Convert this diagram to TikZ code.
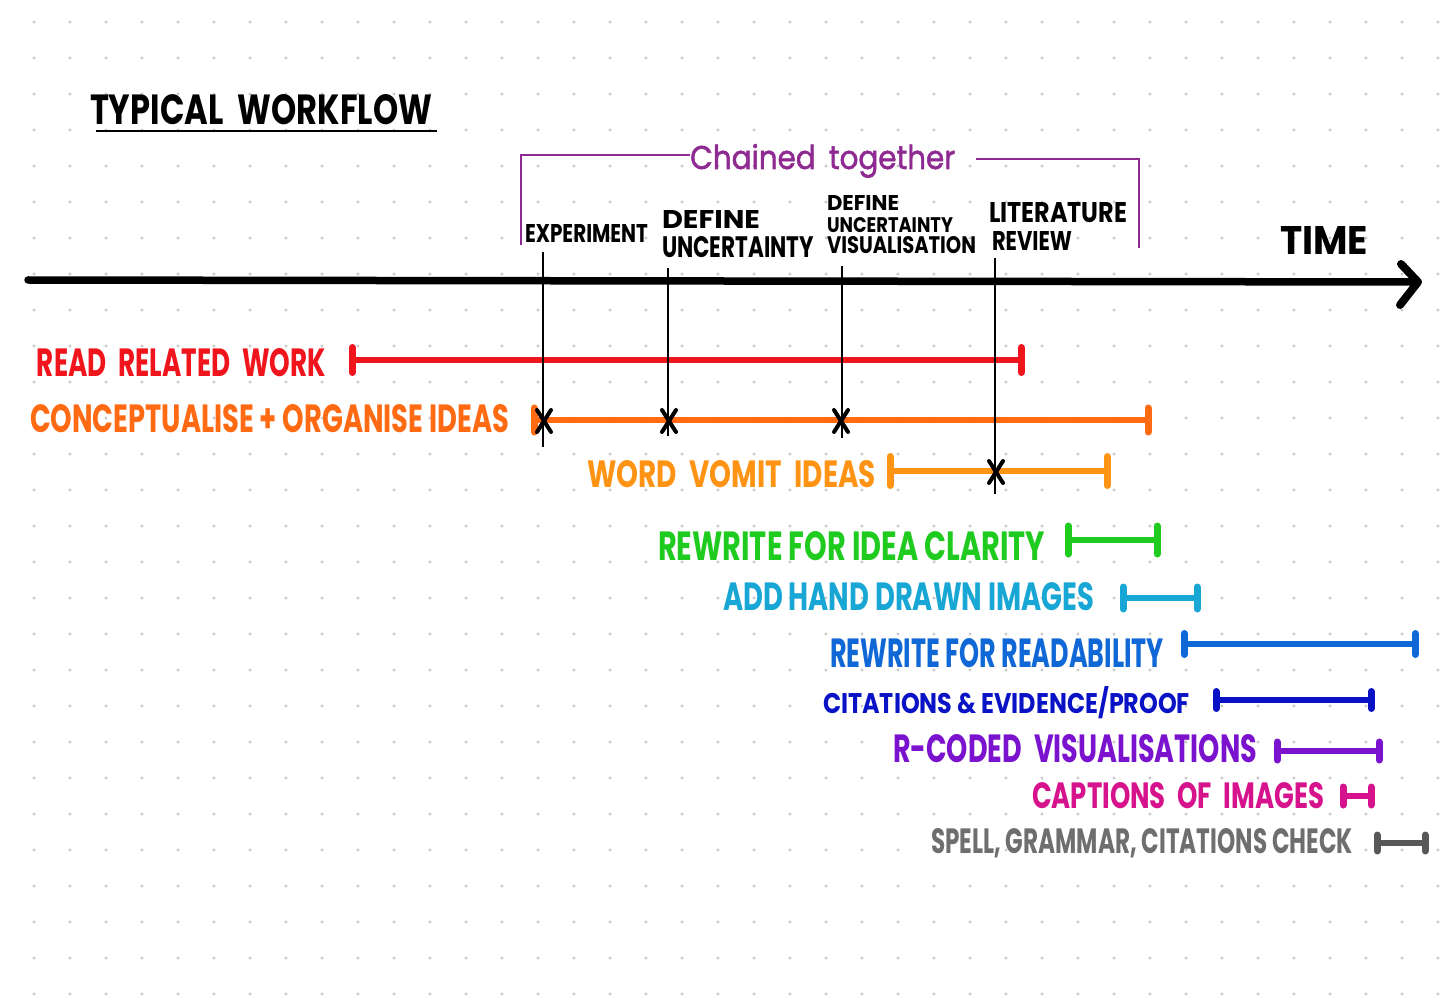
\documentclass[tikz,border=0pt]{standalone}
\usepackage{fontspec}
\usepackage{graphicx}
\setmainfont{Poppins}

% palette
\definecolor{cDot}{HTML}{C8C8C8}
\definecolor{cBracket}{HTML}{8E2A92}
\definecolor{cRed}{HTML}{F0141C}
\definecolor{cOrange}{HTML}{FF6A12}
\definecolor{cAmber}{HTML}{FF9414}
\definecolor{cGreen}{HTML}{1ECB1E}
\definecolor{cCyan}{HTML}{18A6D4}
\definecolor{cBlue}{HTML}{1068D6}
\definecolor{cNavy}{HTML}{0A12C6}
\definecolor{cViolet}{HTML}{7A12CE}
\definecolor{cMagenta}{HTML}{D6128C}
\definecolor{cGreyText}{HTML}{6E6E6E}
\definecolor{cGreyBar}{HTML}{585858}

% text squeezed into a given width and cap height
\newcommand{\hw}[3]{\resizebox{#1pt}{#2pt}{#3}}
% wider gap between hand-lettered words
\newcommand{\gap}{\hspace{0.45em}}

% a coloured time span: name, colour, start x, end x, y, half height of end ticks
\newcommand{\spanbar}[6]{%
  \coordinate (#1s) at (#3,#5);
  \coordinate (#1e) at (#4,#5);
  \draw[span,#2] (#1s) -- (#1e);
  \draw[tick,#2] ([yshift=#6pt]#1s) -- ([yshift=-#6pt]#1s);
  \draw[tick,#2] ([yshift=#6pt]#1e) -- ([yshift=-#6pt]#1e);
}

\tikzset{
  lbl/.style={anchor=base west, inner sep=0pt, outer sep=0pt, font=\bfseries},
  span/.style={line width=6.5pt, line cap=round},
  tick/.style={line width=7pt, line cap=round},
  guide/.style={line width=2pt, black},
  cross/.style={line width=4pt, line cap=round, black},
  bracket/.style={line width=2pt, cBracket, line join=miter},
}

\begin{document}
\begin{tikzpicture}[x=1pt,y=-1pt]
\useasboundingbox (0,0) rectangle (1444,1000);
\fill[white] (0,0) rectangle (1444,1000);

% dotted paper
\foreach \i in {0,...,39}
  \foreach \j in {0,...,27}
    \fill[cDot] (34+36*\i,22+36*\j) circle (1.6);

% title
\node[lbl] (title) at (90,125) {\hw{342}{30}{TYPICAL\gap WORKFLOW}};
\coordinate (ulA) at (96,131);
\coordinate (ulB) at (437,131);
\draw[line width=2.2pt] (ulA) -- (ulB);

% bracket grouping the chained milestones
\node[anchor=base west, inner sep=0pt, text=cBracket] (chain) at (690,169)
  {\hw{265}{25}{\addfontfeatures{FakeBold=1.6}Chained\gap together}};
\coordinate (bLb) at (521,245);
\coordinate (bLt) at (521,155);
\coordinate (bLe) at (chain.west |- bLt);
\coordinate (bRs) at (976,159);
\coordinate (bRt) at (1139,159);
\coordinate (bRb) at (1139,248);
\draw[bracket] (bLb) -- (bLt) -- (bLe);
\draw[bracket] (bRs) -- (bRt) -- (bRb);

% milestone labels
\node[lbl] (mExp) at (525,243) {\hw{123}{18}{EXPERIMENT}};
\node[lbl] (mDef1) at (662,229) {\hw{98}{18}{DEFINE}};
\node[lbl] (mDef2) at (662,258) {\hw{152}{21}{UNCERTAINTY}};
\node[lbl] (mVis1) at (827,211) {\hw{72}{15}{DEFINE}};
\node[lbl] (mVis2) at (827,233) {\hw{126}{15}{UNCERTAINTY}};
\node[lbl] (mVis3) at (827,254) {\hw{149}{17}{VISUALISATION}};
\node[lbl] (mLit1) at (989,223) {\hw{138}{20}{LITERATURE}};
\node[lbl] (mLit2) at (992,251) {\hw{80}{19}{REVIEW}};

% time axis
\node[lbl] (time) at (1280,255) {\hw{88}{28}{TIME}};
\coordinate (t0) at (28,280);
\coordinate (tip) at (1418,282);
\coordinate (arrUp) at (1401,264);
\coordinate (arrDn) at (1400,305);
\draw[line width=7.5pt, line cap=round] (t0) -- (tip);
\draw[line width=8pt, line cap=round, line join=round] (arrUp) -- (tip) -- (arrDn);

% task labels
\node[lbl, text=cRed] (tRead) at (37,377) {\hw{289}{28}{READ\gap RELATED\gap WORK}};
\node[lbl, text=cOrange] (tConc) at (30,432) {\hw{479}{28}{CONCEPTUALISE + ORGANISE IDEAS}};
\node[lbl, text=cAmber] (tVomit) at (587,487) {\hw{289}{27}{WORD\gap VOMIT\gap IDEAS}};
\node[lbl, text=cGreen] (tClar) at (658,560) {\hw{387}{29}{REWRITE FOR IDEA CLARITY}};
\node[lbl, text=cCyan] (tImg) at (723,610) {\hw{371}{28}{ADD HAND DRAWN IMAGES}};
\node[lbl, text=cBlue] (tRead2) at (830,667) {\hw{334}{29}{REWRITE FOR READABILITY}};
\node[lbl, text=cNavy] (tCite) at (823,713) {\hw{367}{27}{CITATIONS \& EVIDENCE/PROOF}};
\node[lbl, text=cViolet] (tRvis) at (893,762) {\hw{364}{28}{R-CODED\gap VISUALISATIONS}};
\node[lbl, text=cMagenta] (tCap) at (1032,808) {\hw{292}{26}{CAPTIONS\gap OF\gap IMAGES}};
\node[lbl, text=cGreyText] (tSpell) at (931,853) {\hw{422}{25}{SPELL, GRAMMAR, CITATIONS CHECK}};

% task spans
\spanbar{read}{cRed}{352}{1021}{360}{12.5}
\spanbar{conc}{cOrange}{534}{1148}{420}{12}
\spanbar{vomit}{cAmber}{890}{1107}{471}{14.5}
\spanbar{clar}{cGreen}{1068}{1157}{540}{14}
\spanbar{img}{cCyan}{1123}{1197}{598}{11}
\spanbar{rdbl}{cBlue}{1184}{1415}{644}{10.5}
\spanbar{cite}{cNavy}{1216}{1371}{700}{8.5}
\spanbar{rvis}{cViolet}{1277}{1379}{751}{9}
\spanbar{capt}{cMagenta}{1343}{1371}{796}{9}
\spanbar{spell}{cGreyBar}{1377}{1425}{843}{8}

% milestone guides
\coordinate (g1a) at (543,252); \coordinate (g1b) at (543,447);
\coordinate (g2a) at (668,268); \coordinate (g2b) at (668,436);
\coordinate (g3a) at (842,266); \coordinate (g3b) at (842,438);
\coordinate (g4a) at (995,258); \coordinate (g4b) at (995,494);
\draw[guide] (g1a) -- (g1b);
\draw[guide] (g2a) -- (g2b);
\draw[guide] (g3a) -- (g3b);
\draw[guide] (g4a) -- (g4b);

% crossing marks where milestones hit the spans
\foreach \n/\x/\y in {x1/544/421, x2/669/421, x3/841/421, x4/996/472}{
  \coordinate (\n) at (\x,\y);
  \draw[cross] ([shift={(-7,-11)}]\n) -- ([shift={(7,11)}]\n);
  \draw[cross] ([shift={(7,-11)}]\n) -- ([shift={(-7,11)}]\n);
}
\end{tikzpicture}
\end{document}
